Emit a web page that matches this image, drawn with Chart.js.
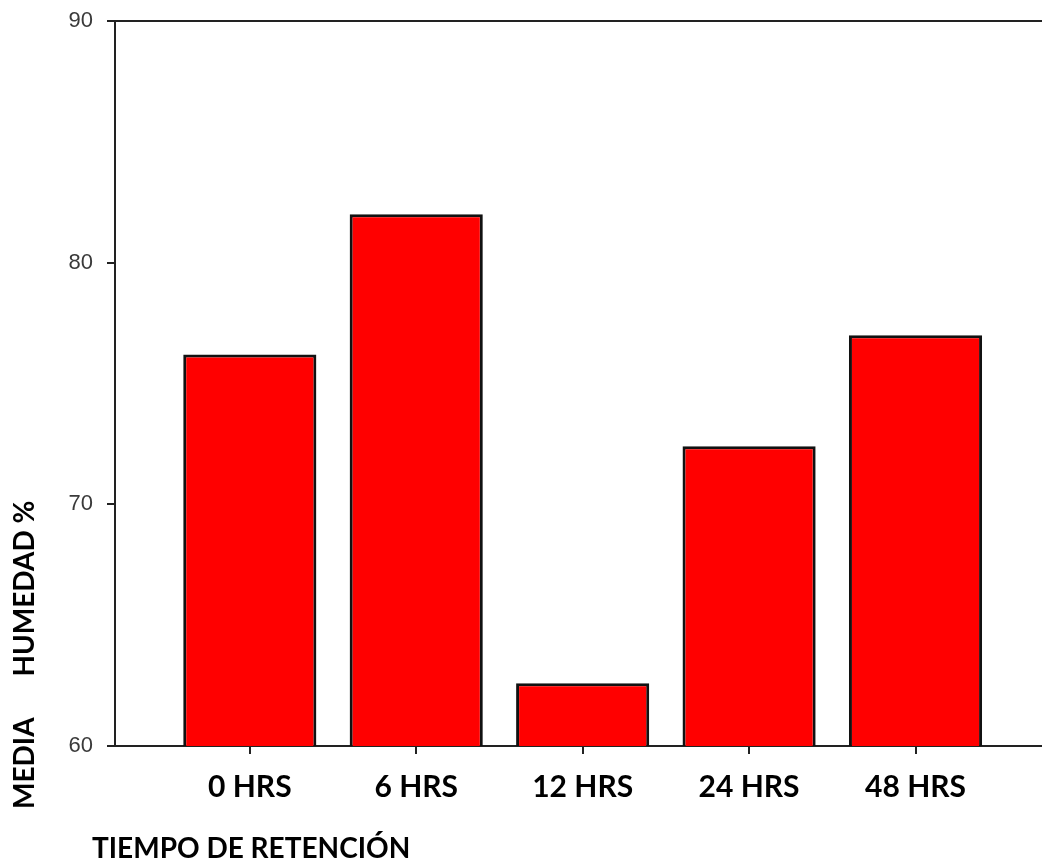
<!DOCTYPE html>
<html lang="es">
<head>
<meta charset="utf-8">
<title>Media Humedad % - Tiempo de retención</title>
<script src="https://cdn.jsdelivr.net/npm/chart.js@4/dist/chart.umd.min.js"></script>
<style>
    html, body {
        margin: 0;
        padding: 0;
        background: #ffffff;
    }

    #humedadChart {
        display: block;
    }
</style>
</head>
<body>

<canvas id="humedadChart" width="1042" height="867"></canvas>

<script>
/*
==========================================================
Media Humedad % por tiempo de retención
Chart.js
==========================================================
*/

const categorias = ["0 HRS", "6 HRS", "12 HRS", "24 HRS", "48 HRS"];

const humedad = [76.2, 82.0, 62.6, 72.4, 77.0];

const ticksY = [60, 70, 80, 90];

const tituloY = "MEDIA      HUMEDAD %";

const tituloX = "TIEMPO DE RETENCIÓN";

document.addEventListener("DOMContentLoaded", () => {

    initializeHumedadChart();

});

function initializeHumedadChart() {

    const canvas = document.getElementById("humedadChart");

    if (!canvas) {

        return;

    }

    const fuenteTitulo = "bold 28px Lato, 'Open Sans', sans-serif";

    // titulos de los ejes fuera del area del grafico, como en el original
    const axisTitles = {

        id: "axisTitles",

        afterDraw(chart) {

            const { ctx, chartArea } = chart;

            ctx.save();

            ctx.fillStyle = "#000000";
            ctx.font = fuenteTitulo;
            ctx.textBaseline = "middle";
            ctx.textAlign = "left";

            ctx.fillText(tituloX, chartArea.left - 23, chartArea.bottom + 103);

            ctx.translate(25, chartArea.bottom + 63);
            ctx.rotate(-Math.PI / 2);
            ctx.fillText(tituloY, 0, 0);

            ctx.restore();

        }

    };

    new Chart(canvas, {

        type: "bar",

        data: {

            datasets: [

                {

                    label: "Media Humedad %",

                    data: humedad.map((valor, i) => ({ x: i, y: valor })),

                    backgroundColor: "#FF0000",

                    borderColor: "#111111",

                    borderWidth: 3,

                    barPercentage: 0.8,

                    categoryPercentage: 1.0

                }

            ]

        },

        options: {

            responsive: false,

            animation: false,

            layout: {

                padding: {
                    top: 21,
                    right: 0,
                    left: 0,
                    bottom: 0
                }

            },

            plugins: {

                legend: {
                    display: false
                },

                tooltip: {
                    enabled: false
                }

            },

            scales: {

                x: {

                    type: "linear",

                    offset: false,

                    min: -0.81,

                    max: 4.76,

                    afterBuildTicks: (scale) => {

                        scale.ticks = categorias.map((c, i) => ({ value: i }));

                    },

                    afterFit: (scale) => {

                        scale.height = 121;

                    },

                    border: {
                        display: true,
                        color: "#222222",
                        width: 2
                    },

                    grid: {
                        offset: false,
                        drawOnChartArea: false,
                        drawTicks: true,
                        tickLength: 8,
                        tickColor: "#222222",
                        lineWidth: 2
                    },

                    ticks: {
                        autoSkip: false,
                        maxRotation: 0,
                        padding: 15,
                        color: "#000000",
                        font: {
                            family: "Lato, 'Open Sans', sans-serif",
                            size: 30,
                            weight: "bold"
                        },
                        callback: (valor) => categorias[valor] ?? ""
                    }

                },

                y: {

                    min: 60,

                    max: 90,

                    afterBuildTicks: (scale) => {

                        scale.ticks = ticksY.map((v) => ({ value: v }));

                    },

                    afterFit: (scale) => {

                        scale.width = 115;

                        // sin margen extra arriba por la etiqueta "90"
                        scale.paddingTop = 0;
                        scale.paddingBottom = 0;

                    },

                    border: {
                        display: true,
                        color: "#222222",
                        width: 2
                    },

                    grid: {
                        drawOnChartArea: true,
                        tickLength: 8,
                        lineWidth: 2,
                        tickColor: "#222222",
                        color: (ctx) => (ctx.tick && ctx.tick.value === 90) ? "#222222" : "rgba(0,0,0,0)"
                    },

                    ticks: {
                        padding: 14,
                        color: "#3a3a3a",
                        font: {
                            family: "'Liberation Sans Narrow', 'Liberation Sans', sans-serif",
                            size: 22
                        }
                    }

                }

            }

        },

        plugins: [axisTitles]

    });

}
</script>

</body>
</html>
